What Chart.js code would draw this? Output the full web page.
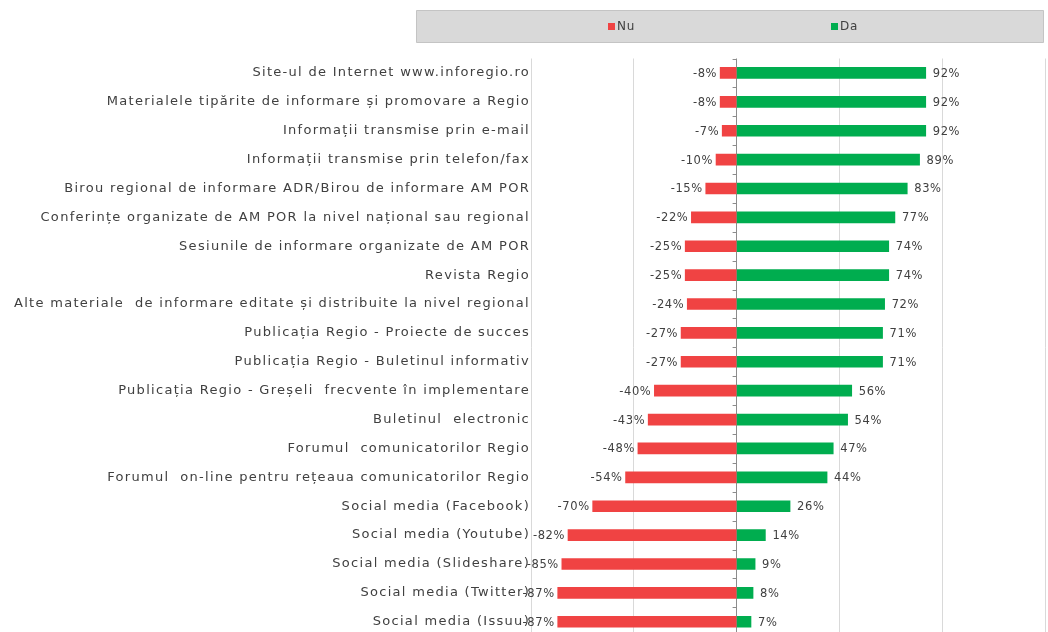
<!DOCTYPE html>
<html>
<head>
<meta charset="utf-8">
<script src="https://cdn.jsdelivr.net/npm/chart.js@4"></script>
<style>
    html, body { margin: 0; padding: 0; background: #ffffff; overflow: hidden; }
    #wrap { width: 1048px; height: 645px; }
</style>
</head>
<body>
<div id="wrap"><canvas id="surveyChart" width="1048" height="645"></canvas></div>
<script>
// Categories, top to bottom
const categories = [
    "Site-ul de Internet www.inforegio.ro",
    "Materialele tipărite de informare și promovare a Regio",
    "Informații transmise prin e-mail",
    "Informații transmise prin telefon/fax",
    "Birou regional de informare ADR/Birou de informare AM POR",
    "Conferințe organizate de AM POR la nivel național sau regional",
    "Sesiunile de informare organizate de AM POR",
    "Revista Regio",
    "Alte materiale  de informare editate și distribuite la nivel regional",
    "Publicația Regio - Proiecte de succes",
    "Publicația Regio - Buletinul informativ",
    "Publicația Regio - Greșeli  frecvente în implementare",
    "Buletinul  electronic",
    "Forumul  comunicatorilor Regio",
    "Forumul  on-line pentru rețeaua comunicatorilor Regio",
    "Social media (Facebook)",
    "Social media (Youtube)",
    "Social media (Slideshare)",
    "Social media (Twitter)",
    "Social media (Issuu)"
];

// Series values (percent)
const nuValues = [-8, -8, -7, -10, -15, -22, -25, -25, -24, -27, -27, -40, -43, -48, -54, -70, -82, -85, -87, -87];
const daValues = [92, 92, 92, 89, 83, 77, 74, 74, 72, 71, 71, 56, 54, 47, 44, 26, 14, 9, 8, 7];

const seriesNames = ["Nu", "Da"];
const seriesColors = ["#F04343", "#00AD4F"];

const textColor = "#404040";
const fontFamily = "'DejaVu Sans', sans-serif";

// the original text is quite spread out, so widen the letters a bit
const spacingPlugin = {
    id: "spacing",
    beforeDraw(chart) { chart.ctx.letterSpacing = "1.3px"; },
    afterDraw(chart) { chart.ctx.letterSpacing = "0px"; }
};

// Gray legend box on top
const legendBoxPlugin = {
    id: "legendBox",
    afterDraw(chart) {
        const ctx = chart.ctx;
        ctx.save();
        ctx.letterSpacing = "0.8px";
        ctx.fillStyle = "#d9d9d9";
        ctx.strokeStyle = "#c4c4c4";
        ctx.lineWidth = 1;
        ctx.beginPath();
        ctx.rect(416.5, 10.5, 627, 32);
        ctx.fill();
        ctx.stroke();

        const itemX = [608, 831];
        ctx.font = "12px " + fontFamily;
        ctx.textBaseline = "middle";
        chart.data.datasets.forEach((ds, i) => {
            ctx.fillStyle = ds.backgroundColor;
            ctx.fillRect(itemX[i], 23, 7, 7);
            ctx.fillStyle = textColor;
            ctx.fillText(ds.label, itemX[i] + 9, 27);
        });
        ctx.restore();
    }
};

// Small tick marks on the zero axis, between categories
const zeroTicksPlugin = {
    id: "zeroTicks",
    beforeDatasetsDraw(chart) {
        const ctx = chart.ctx;
        const x0 = chart.scales.x.getPixelForValue(0);
        const yScale = chart.scales.y;
        ctx.save();
        ctx.strokeStyle = "#8c8c8c";
        ctx.lineWidth = 1;
        for (let i = 0; i <= categories.length; i++) {
            const y = Math.round(yScale.getPixelForValue(i - 0.5)) + 0.5;
            ctx.beginPath();
            ctx.moveTo(x0 - 4, y);
            ctx.lineTo(x0, y);
            ctx.stroke();
        }
        ctx.restore();
    }
};

// Value labels beside the bars
const valueLabelsPlugin = {
    id: "valueLabels",
    afterDatasetsDraw(chart) {
        const ctx = chart.ctx;
        ctx.save();
        ctx.letterSpacing = "0.6px";
        ctx.font = "11.5px " + fontFamily;
        ctx.fillStyle = textColor;
        ctx.textBaseline = "middle";
        chart.data.datasets.forEach((ds, di) => {
            const meta = chart.getDatasetMeta(di);
            meta.data.forEach((bar, i) => {
                const v = ds.data[i];
                const txt = v + "%";
                if (v < 0) {
                    ctx.textAlign = "right";
                    ctx.fillText(txt, bar.x - 3, bar.y + 1);
                } else {
                    ctx.textAlign = "left";
                    ctx.fillText(txt, bar.x + 7, bar.y + 1);
                }
            });
        });
        ctx.restore();
    }
};

const ctx = document.getElementById("surveyChart").getContext("2d");

new Chart(ctx, {
    type: "bar",
    data: {
        labels: categories,
        datasets: [
            {
                label: seriesNames[0],
                data: nuValues,
                backgroundColor: seriesColors[0],
                barThickness: 11
            },
            {
                label: seriesNames[1],
                data: daValues,
                backgroundColor: seriesColors[1],
                barThickness: 11
            }
        ]
    },
    options: {
        indexAxis: "y",
        responsive: false,
        animation: false,
        layout: {
            padding: { top: 58.5, bottom: 8.5, right: 3, left: 0 }
        },
        plugins: {
            legend: { display: false },
            tooltip: { enabled: false }
        },
        scales: {
            x: {
                stacked: true,
                min: -100,
                max: 150,
                ticks: { stepSize: 50, display: false },
                grid: {
                    drawTicks: false,
                    color: (c) => c.tick && c.tick.value === 0 ? "#8c8c8c" : "#d9d9d9"
                },
                border: { display: false }
            },
            y: {
                stacked: true,
                afterFit(scale) { scale.width = 531; },
                ticks: {
                    color: textColor,
                    padding: 1,
                    font: { family: fontFamily, size: 13 }
                },
                grid: { display: false, drawTicks: false },
                border: { display: false }
            }
        }
    },
    plugins: [spacingPlugin, legendBoxPlugin, zeroTicksPlugin, valueLabelsPlugin]
});
</script>
</body>
</html>
